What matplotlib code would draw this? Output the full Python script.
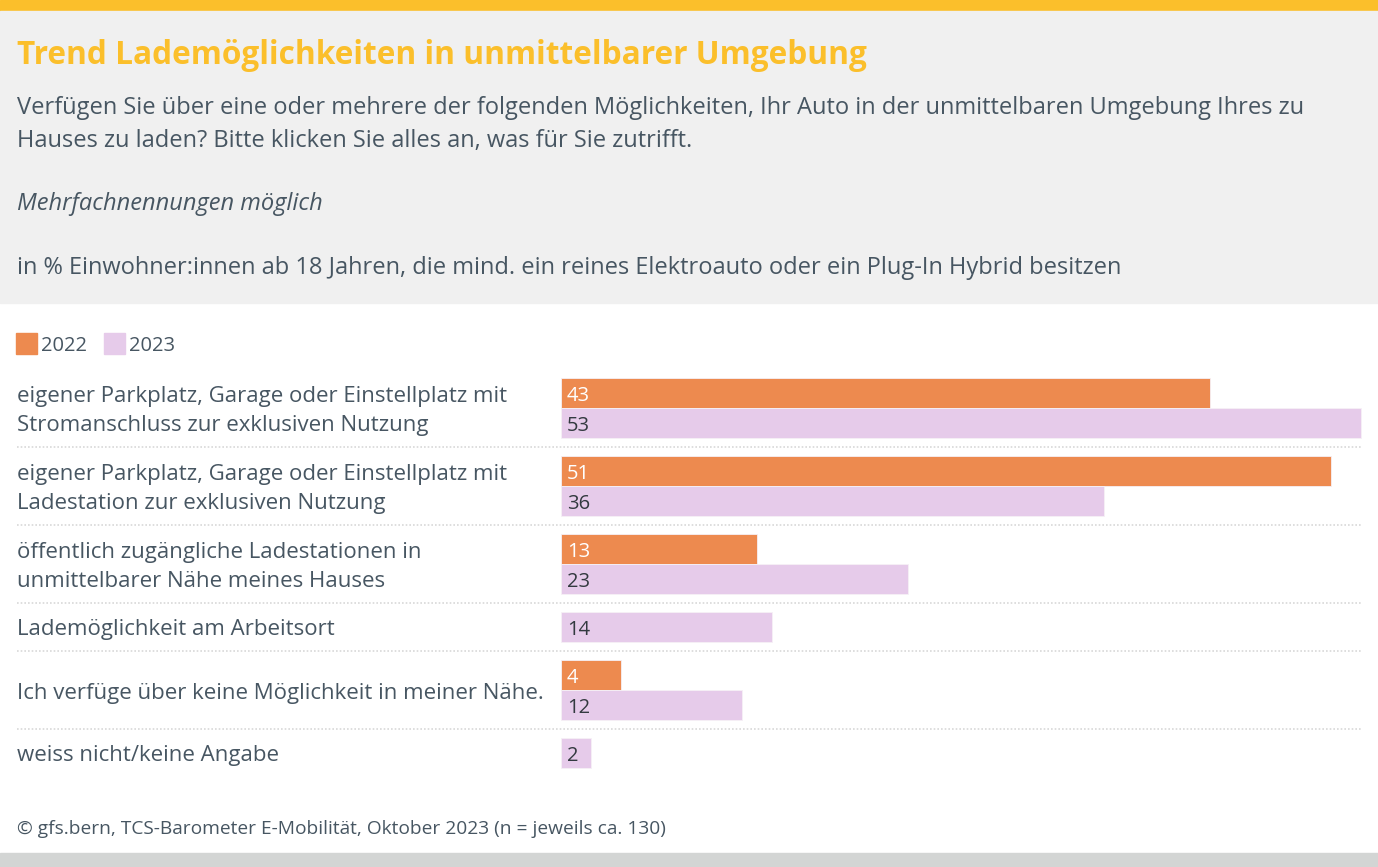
import matplotlib.pyplot as plt
from matplotlib.patches import Rectangle

# ── data ──────────────────────────────────────────────────────────────────────
categories = [
    "eigener Parkplatz, Garage oder Einstellplatz mit\nStromanschluss zur exklusiven Nutzung",
    "eigener Parkplatz, Garage oder Einstellplatz mit\nLadestation zur exklusiven Nutzung",
    "öffentlich zugängliche Ladestationen in\nunmittelbarer Nähe meines Hauses",
    "Lademöglichkeit am Arbeitsort",
    "Ich verfüge über keine Möglichkeit in meiner Nähe.",
    "weiss nicht/keine Angabe",
]
values_2022 = [43, 51, 13, None, 4, None]
values_2023 = [53, 36, 23, 14, 12, 2]
series_names = ["2022", "2023"]

title = "Trend Lademöglichkeiten in unmittelbarer Umgebung"
subtitle = ("Verfügen Sie über eine oder mehrere der folgenden Möglichkeiten, Ihr Auto in der unmittelbaren Umgebung Ihres zu\n"
            "Hauses zu laden? Bitte klicken Sie alles an, was für Sie zutrifft.")
note = "Mehrfachnennungen möglich"
unit = "in % Einwohner:innen ab 18 Jahren, die mind. ein reines Elektroauto oder ein Plug-In Hybrid besitzen"
source = "© gfs.bern, TCS-Barometer E-Mobilität, Oktober 2023 (n = jeweils ca. 130)"

# ── style ─────────────────────────────────────────────────────────────────────
W, H = 1378, 867
YELLOW = "#fbbf2b"
HEADER = "#f0f0f0"
TEXT = "#475662"
C22 = "#ed8a4f"
C23 = "#e6cbea"
plt.rcParams["font.family"] = ["Open Sans", "DejaVu Sans"]

fig = plt.figure(figsize=(W / 100, H / 100), dpi=100, facecolor="white")

def fy(y):
    return 1 - y / H

# background bands
fig.patches.append(Rectangle((0, fy(11)), 1, 11 / H, transform=fig.transFigure, color=YELLOW, zorder=0))
fig.patches.append(Rectangle((0, fy(303)), 1, 292 / H, transform=fig.transFigure, color=HEADER, zorder=0))
fig.patches.append(Rectangle((0, 0), 1, 14 / H, transform=fig.transFigure, color="#d3d5d4", zorder=0))

fig.text(17 / W, fy(56), title, fontsize=22.8, fontweight="bold", color=YELLOW, va="center")
fig.text(17 / W, fy(124.5), subtitle, fontsize=17, color=TEXT, va="center", linespacing=1.55)
fig.text(17 / W, fy(204), note, fontsize=17, color=TEXT, va="center", style="italic")
fig.text(17 / W, fy(268), unit, fontsize=17, color=TEXT, va="center")
fig.text(17 / W, fy(829), source, fontsize=13.8, color=TEXT, va="center")

# legend
for x0, name, col in [(16, series_names[0], C22), (104, series_names[1], C23)]:
    fig.patches.append(Rectangle((x0 / W, fy(354)), 21 / W, 21 / H, transform=fig.transFigure, color=col))
    fig.text((x0 + 25) / W, fy(346), name, fontsize=14.5, color=TEXT, va="center")

# ── bars (axes in pixel y, data x) ────────────────────────────────────────────
scale = 800 / 53
ax = fig.add_axes([0, 0, 1, 1])
ax.set_xlim(-561 / scale, (W - 561) / scale)
ax.set_ylim(H, 0)
ax.axis("off")
ax.patch.set_alpha(0)

BAR_H = 30
GAP = 18
y = 378
seps = []
for i, cat in enumerate(categories):
    bars = [(v, c, tc) for v, c, tc in [(values_2022[i], C22, "white"), (values_2023[i], C23, "#333a40")] if v is not None]
    top = y
    for v, col, tc in bars:
        ax.barh(y + BAR_H / 2, v, height=BAR_H, color=col, edgecolor="#f6f0f6", linewidth=0.6, left=0)
        ax.text(6 / scale, y + BAR_H / 2 + 3, str(v), color=tc, fontsize=14.5, va="center", ha="left")
        y += BAR_H
    ax.text(-544 / scale, (top + y) / 2 + 3, cat, fontsize=16, color=TEXT, va="center", ha="left", linespacing=1.45)
    if i < len(categories) - 1:
        seps.append(y + 9)
    y += GAP

for s in seps:
    ax.plot([-544 / scale, 53], [s, s], color="#d8d8d8", lw=1.2, ls=(0, (1, 1.2)))

fig.savefig("out.png", dpi=100, facecolor="white")
